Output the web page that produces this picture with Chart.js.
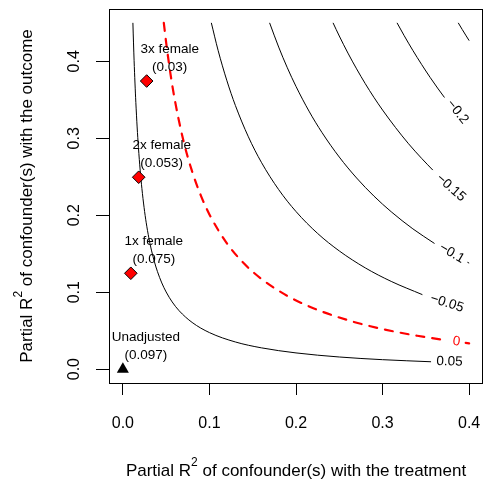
<!DOCTYPE html>
<html><head><meta charset="utf-8">
<script src="https://cdn.jsdelivr.net/npm/chart.js@4/dist/chart.umd.min.js"></script>
<style>html,body{margin:0;padding:0;background:#fff}#wrap{width:483px;height:479px}</style>
</head><body><div id="wrap"><canvas id="c" width="483" height="479"></canvas></div>
<script>
// ---- data ----
const xTicks = [0, 0.1, 0.2, 0.3, 0.4];
const yTicks = [0, 0.1, 0.2, 0.3, 0.4];
const xTitlePre = "Partial R", xTitleSup = "2", xTitlePost = " of confounder(s) with the treatment";
const yTitlePre = "Partial R", yTitleSup = "2", yTitlePost = " of confounder(s) with the outcome";

const unadjName = ["Unadjusted"];
const unadjR2dz = [0];
const unadjR2yz = [0];
const unadjEst = ["0.097"];

const boundNames = ["1x female", "2x female", "3x female"];
const boundR2dz = [0.0092, 0.0183, 0.0275];
const boundR2yz = [0.1246, 0.2494, 0.3744];
const boundEst = ["0.075", "0.053", "0.03"];

// contour level 0.05
const c005X = [0.0116,0.0123,0.013,0.014,0.015,0.0165,0.018,0.02,0.022,0.0245,0.027,0.03,0.033,0.0365,0.04,0.045,0.05,0.057,0.065,0.08,0.1,0.13,0.16,0.2,0.25,0.3,0.356];
const c005Y = [0.45,0.4239,0.4008,0.3718,0.3467,0.3147,0.2880,0.2587,0.2347,0.2102,0.1902,0.1707,0.1547,0.1394,0.1267,0.1120,0.1003,0.0873,0.0759,0.0607,0.0475,0.0353,0.0277,0.0211,0.0158,0.0123,0.0096];
// contour level 0 (threshold, red dashed)
const c0X = [0.0473,0.05,0.055,0.06,0.07,0.08,0.09,0.1,0.12,0.14,0.16,0.19,0.22,0.26,0.3,0.34,0.374];
const c0Y = [0.45,0.4245,0.3838,0.3500,0.2968,0.2569,0.2259,0.2011,0.1638,0.1372,0.1173,0.0952,0.0792,0.0636,0.0521,0.0434,0.0374];
const c0TailX = [0.396, 0.4];
const c0TailY = [0.0341, 0.0335];
// contour level -0.05
const cm005X = [0.1022,0.11,0.12,0.13,0.145,0.16,0.18,0.2,0.225,0.25,0.28,0.31,0.346];
const cm005Y = [0.45,0.4143,0.3755,0.3426,0.3019,0.2688,0.2333,0.2048,0.1763,0.1536,0.1316,0.1140,0.0968];
// contour level -0.1
const cm01X = [0.1695,0.18,0.19,0.2,0.215,0.23,0.25,0.27,0.29,0.31,0.335,0.36];
const cm01Y = [0.45,0.4185,0.3916,0.3674,0.3353,0.3075,0.2756,0.2484,0.2249,0.2045,0.1823,0.1633];
const cm01TailX = [0.398, 0.4];
const cm01TailY = [0.1389, 0.1378];
// contour level -0.15
const cm015X = [0.2428,0.25,0.26,0.27,0.28,0.29,0.3,0.315,0.33,0.345,0.358];
const cm015Y = [0.45,0.4329,0.4107,0.3902,0.3710,0.3532,0.3367,0.3139,0.2929,0.2740,0.2587];
// contour level -0.2
const cm02X = [0.3167,0.325,0.335,0.345,0.355,0.3635,0.3715];
const cm02Y = [0.45,0.4333,0.4141,0.3961,0.3790,0.3653,0.3530];
// contour level -0.25
const cm025X = [0.3874,0.392,0.396,0.4];
const cm025Y = [0.45,0.4414,0.4341,0.4269];

// contour labels
const contourLabelText = ["0.05", "0", "\u22120.05", "\u22120.1", "\u22120.15", "\u22120.2"];
const contourLabelX = [0.3773, 0.3853, 0.3744, 0.3800, 0.3790, 0.3865];
const contourLabelY = [0.0097, 0.0357, 0.0857, 0.1506, 0.2357, 0.3344];

// ---- styles ----
const FONT = '"Liberation Sans", Arial, Helvetica, sans-serif';
const labelAngles = [2, 7.5, 18, 30, 41.5, 51];
const labelColors = ["#000", "#ff0000", "#000", "#000", "#000", "#000"];

const zip = (xs, ys) => xs.map((v, i) => ({x: v, y: ys[i]}));
const lineDs = (xs, ys, color, width, dash) => ({
  data: zip(xs, ys), showLine: true, pointRadius: 0, borderColor: color,
  borderWidth: width, borderDash: dash || [], borderCapStyle: dash ? 'round' : 'butt',
  cubicInterpolationMode: 'monotone', fill: false, order: 2
});

const datasets = [
  lineDs(c005X, c005Y, '#000', 1),
  lineDs(cm005X, cm005Y, '#000', 1),
  lineDs(cm01X, cm01Y, '#000', 1),
  lineDs(cm01TailX, cm01TailY, '#000', 1),
  lineDs(cm015X, cm015Y, '#000', 1),
  lineDs(cm02X, cm02Y, '#000', 1),
  lineDs(cm025X, cm025Y, '#000', 1),
  lineDs(c0X, c0Y, '#ff0000', 2.2, [8, 8]),
  lineDs(c0TailX, c0TailY, '#ff0000', 2.2, [8, 8]),
  {data: zip(unadjR2dz, unadjR2yz), pointStyle: 'triangle', pointRadius: 7, backgroundColor: '#000', borderColor: '#000', borderWidth: 0, showLine: false, order: 1},
  {data: zip(boundR2dz, boundR2yz), pointStyle: 'rectRot', pointRadius: 6.3, backgroundColor: '#ff0000', borderColor: '#000', borderWidth: 1, showLine: false, order: 1}
];

function drawSup(ctx, pre, sup, post, size, supSize) {
  ctx.font = size + 'px ' + FONT;
  const w1 = ctx.measureText(pre).width;
  const w3 = ctx.measureText(post).width;
  ctx.font = supSize + 'px ' + FONT;
  const w2 = ctx.measureText(sup).width;
  const total = w1 + w2 + w3;
  let x = -total / 2;
  ctx.textAlign = 'left'; ctx.textBaseline = 'alphabetic';
  ctx.font = size + 'px ' + FONT; ctx.fillText(pre, x, 0); x += w1;
  ctx.font = supSize + 'px ' + FONT; ctx.fillText(sup, x, -10); x += w2;
  ctx.font = size + 'px ' + FONT; ctx.fillText(post, x, 0);
}

const annot = {
  id: 'annot',
  afterDraw(chart) {
    const {ctx, chartArea: a, scales: {x, y}} = chart;
    ctx.save();
    ctx.strokeStyle = '#000'; ctx.lineWidth = 1;
    ctx.strokeRect(Math.round(a.left) + 0.5, Math.round(a.top) + 0.5, Math.round(a.right - a.left) - 1, Math.round(a.bottom - a.top));
    // contour labels
    ctx.font = '13.5px ' + FONT; ctx.textAlign = 'center'; ctx.textBaseline = 'middle';
    contourLabelText.forEach((t, i) => {
      ctx.save();
      ctx.translate(x.getPixelForValue(contourLabelX[i]), y.getPixelForValue(contourLabelY[i]));
      ctx.rotate(labelAngles[i] * Math.PI / 180);
      ctx.fillStyle = labelColors[i];
      ctx.fillText(t, 0, 0);
      ctx.restore();
    });
    // point labels
    ctx.fillStyle = '#000';
    const pl = (px, py, l1, l2) => {
      ctx.fillText(l1, px + 23, py - 31.5);
      ctx.fillText(l2, px + 23, py - 13.5);
    };
    pl(x.getPixelForValue(unadjR2dz[0]), y.getPixelForValue(unadjR2yz[0]), unadjName[0], '(' + unadjEst[0] + ')');
    boundNames.forEach((n, i) => pl(x.getPixelForValue(boundR2dz[i]), y.getPixelForValue(boundR2yz[i]), n, '(' + boundEst[i] + ')'));
    // axis titles
    ctx.fillStyle = '#000';
    ctx.save(); ctx.translate((a.left + a.right) / 2, 476);
    drawSup(ctx, xTitlePre, xTitleSup, xTitlePost, 17, 12); ctx.restore();
    ctx.save(); ctx.translate(32, (a.top + a.bottom) / 2); ctx.rotate(-Math.PI / 2);
    drawSup(ctx, yTitlePre, yTitleSup, yTitlePost, 17, 12); ctx.restore();
    ctx.restore();
  }
};

new Chart(document.getElementById('c'), {
  type: 'scatter',
  data: {datasets},
  options: {
    responsive: false, animation: false, events: [],
    layout: {autoPadding: false, padding: {top: 9, right: 0, left: 0, bottom: 0}},
    plugins: {legend: {display: false}, tooltip: {enabled: false}},
    scales: {
      x: {
        type: 'linear', min: -0.016, max: 0.416,
        afterBuildTicks: s => { s.ticks = xTicks.map(v => ({value: v})); },
        afterFit: s => { s.height = 96; s.paddingLeft = 0; s.paddingRight = 0; s.paddingTop = 0; s.paddingBottom = 0; },
        grid: {display: true, drawOnChartArea: false, drawTicks: true, tickLength: 12, color: '#000', lineWidth: 1},
        border: {display: false},
        ticks: {color: '#000', font: {family: FONT, size: 16}, padding: 19, maxRotation: 0, minRotation: 0, callback: v => Number(v).toFixed(1)}
      },
      y: {
        type: 'linear', min: -0.018, max: 0.468,
        afterBuildTicks: s => { s.ticks = yTicks.map(v => ({value: v})); },
        afterFit: s => { s.width = 109; s.paddingLeft = 0; s.paddingRight = 0; s.paddingTop = 0; s.paddingBottom = 0; },
        grid: {display: true, drawOnChartArea: false, drawTicks: true, tickLength: 13, color: '#000', lineWidth: 1},
        border: {display: false},
        ticks: {color: '#000', font: {family: FONT, size: 16}, padding: 10.5, minRotation: 90, maxRotation: 90, crossAlign: 'center', callback: v => Number(v).toFixed(1)}
      }
    }
  },
  plugins: [annot]
});
</script></body></html>
